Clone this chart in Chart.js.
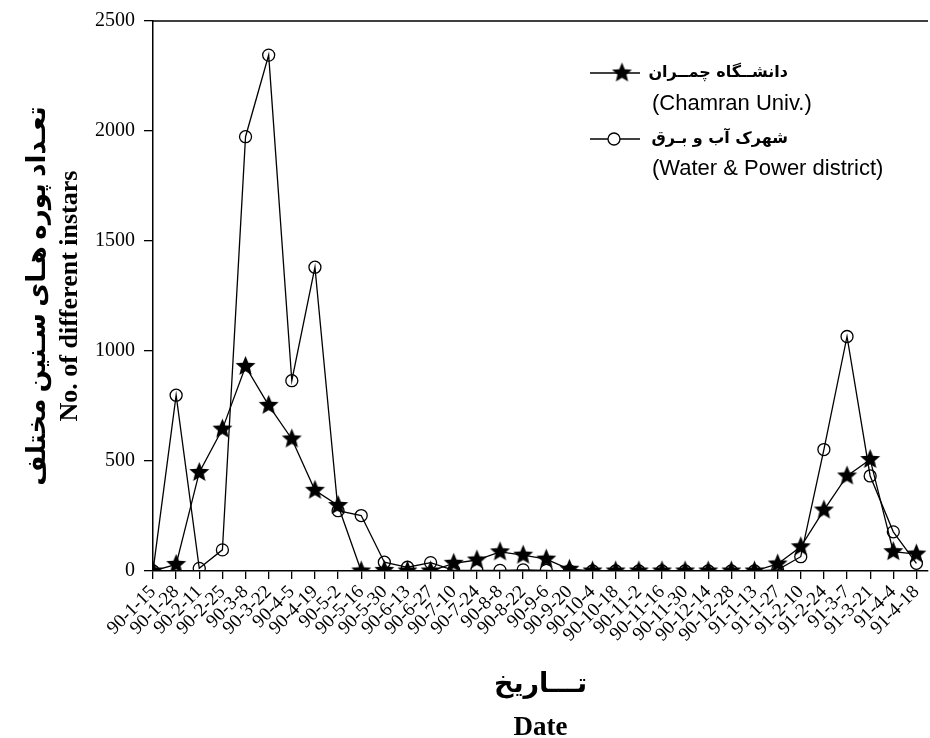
<!DOCTYPE html>
<html><head><meta charset="utf-8">
<script src="https://cdn.jsdelivr.net/npm/chart.js@4.4.1/dist/chart.umd.min.js"></script>
<style>html,body{margin:0;padding:0;background:#fff}canvas{display:block}</style>
</head><body>
<canvas id="c" width="930" height="738"></canvas>
<script>
// ---- data ----
const dates = ['90-1-15','90-1-28','90-2-11','90-2-25','90-3-8','90-3-22','90-4-5','90-4-19','90-5-2','90-5-16',
  '90-5-30','90-6-13','90-6-27','90-7-10','90-7-24','90-8-8','90-8-22','90-9-6','90-9-20','90-10-4',
  '90-10-18','90-11-2','90-11-16','90-11-30','90-12-14','90-12-28','91-1-13','91-1-27','91-2-10','91-2-24',
  '91-3-7','91-3-21','91-4-4','91-4-18'];
const chamran = [0, 30, 448, 645, 930, 753, 600, 367, 298, 0,
  3, 0, 0, 35, 50, 87, 72, 54, 8, 0,
  0, 0, 0, 0, 0, 0, 0, 32, 110, 277,
  432, 507, 88, 77];
const waterPower = [0, 799, 12, 96, 1974, 2345, 865, 1381, 274, 252,
  40, 17, 38, 3, 3, 3, 5, 3, 0, 0,
  0, 0, 0, 0, 0, 0, 0, 5, 65, 552,
  1066, 432, 178, 35];
const yTicks = [0, 500, 1000, 1500, 2000, 2500];
const legendFa = ['دانشــگاه چمــران', 'شهرک آب و بـرق'];
const legendEn = ['(Chamran Univ.)', '(Water & Power district)'];
const xTitle = ['تـــاریخ', 'Date'];
const yTitle = ['تعـداد پوره هـای سـنین مختلف', 'No. of different instars'];

// ---- star marker ----
function makeStar(R, r) {
  const s = Math.ceil(R * 2) + 2;
  const c = document.createElement('canvas');
  c.width = s; c.height = s;
  const g = c.getContext('2d');
  g.translate(s / 2, s / 2);
  g.beginPath();
  for (let i = 0; i < 10; i++) {
    const rad = i % 2 ? r : R;
    const a = -Math.PI / 2 + i * Math.PI / 5;
    g.lineTo(rad * Math.cos(a), rad * Math.sin(a));
  }
  g.closePath();
  g.fillStyle = '#000';
  g.fill();
  return c;
}
const starImg = makeStar(10.5, 4.7);

const topBorder = {
  id: 'topBorder',
  afterDraw(chart) {
    const { ctx, chartArea: a } = chart;
    ctx.save();
    ctx.strokeStyle = '#000'; ctx.lineWidth = 1.5;
    ctx.beginPath(); ctx.moveTo(a.left, a.top); ctx.lineTo(a.right, a.top); ctx.stroke();
    ctx.restore();
  }
};

const customLegend = {
  id: 'customLegend',
  afterDraw(chart) {
    const ctx = chart.ctx;
    const rows = [73, 139];
    const enRows = [104, 169];
    ctx.save();
    for (let k = 0; k < 2; k++) {
      const y = rows[k];
      ctx.strokeStyle = '#000'; ctx.lineWidth = 1.3;
      ctx.beginPath(); ctx.moveTo(590, y); ctx.lineTo(640, y); ctx.stroke();
      if (k === 0) {
        ctx.drawImage(starImg, 622 - starImg.width / 2, y - starImg.height / 2);
      } else {
        ctx.fillStyle = '#fff';
        ctx.beginPath(); ctx.arc(614, y, 6, 0, Math.PI * 2); ctx.fill(); ctx.stroke();
      }
      ctx.fillStyle = '#000';
      ctx.textBaseline = 'middle';
      ctx.font = 'bold 16px "DejaVu Sans", "Liberation Sans", sans-serif';
      ctx.textAlign = 'right';
      ctx.direction = 'rtl';
      ctx.fillText(legendFa[k], 788, y);
      ctx.direction = 'ltr';
      ctx.textAlign = 'left';
      ctx.font = '22px "Liberation Sans", Arial, sans-serif';
      ctx.fillText(legendEn[k], 652, enRows[k]);
    }
    ctx.restore();
  }
};

Chart.defaults.font.family = '"Liberation Serif", "Times New Roman", "DejaVu Sans", serif';
Chart.defaults.color = '#000';

function noSidePadding(s) {
  s.paddingRight = 0; s.paddingLeft = 0;
  s.getPadding = function () {
    return { left: 0, right: 0, top: this.paddingTop || 0, bottom: this.paddingBottom || 0 };
  };
}

new Chart(document.getElementById('c'), {
  type: 'line',
  data: {
    datasets: [
      {
        label: legendFa[0] + ' ' + legendEn[0],
        data: chamran.map((v, i) => ({ x: i, y: v })),
        borderColor: '#000', borderWidth: 1.3, tension: 0, fill: false,
        pointStyle: starImg, pointRadius: 10, pointHoverRadius: 10
      },
      {
        label: legendFa[1] + ' ' + legendEn[1],
        data: waterPower.map((v, i) => ({ x: i, y: v })),
        borderColor: '#000', borderWidth: 1.3, tension: 0, fill: false,
        pointStyle: 'circle', pointRadius: 6, pointHoverRadius: 6,
        pointBorderWidth: 1.3, pointBorderColor: '#000', pointBackgroundColor: 'rgba(255,255,255,0)'
      }
    ]
  },
  options: {
    responsive: false, animation: false,
    layout: { autoPadding: false, padding: { left: 0, right: 2, top: 20, bottom: 0 } },
    plugins: { legend: { display: false }, tooltip: { enabled: false } },
    scales: {
      x: {
        type: 'linear', min: 0, max: 33.5,
        afterBuildTicks: s => { s.ticks = dates.map((_, i) => ({ value: i })); },
        afterFit: s => { s.height = 167; noSidePadding(s); },
        ticks: {
          autoSkip: false, minRotation: 45, maxRotation: 45, padding: 2,
          color: '#000', font: { size: 19 },
          callback: v => dates[v]
        },
        grid: { display: true, drawOnChartArea: false, drawTicks: true, tickLength: 8, color: '#000', lineWidth: 1.3 },
        border: { display: true, color: '#000', width: 1.5 },
        title: {
          display: true, text: xTitle, color: '#000',
          font: { size: 27, weight: 'bold', lineHeight: 1.6 },
          padding: { top: 0, bottom: -12 }
        }
      },
      y: {
        min: 0, max: 2500,
        afterBuildTicks: s => { s.ticks = yTicks.map(v => ({ value: v })); },
        afterFit: s => { s.width = 153; },
        ticks: { color: '#000', font: { size: 20 }, padding: 9, callback: v => String(v) },
        grid: { display: true, drawOnChartArea: false, tickLength: 9, color: '#000', lineWidth: 1.3 },
        border: { display: true, color: '#000', width: 1.5 },
        title: {
          display: true, text: yTitle, color: '#000',
          font: { size: 26, weight: 'bold', lineHeight: 1.25 },
          padding: { top: 22, bottom: 0 }
        }
      }
    }
  },
  plugins: [topBorder, customLegend]
});
</script>
</body></html>
